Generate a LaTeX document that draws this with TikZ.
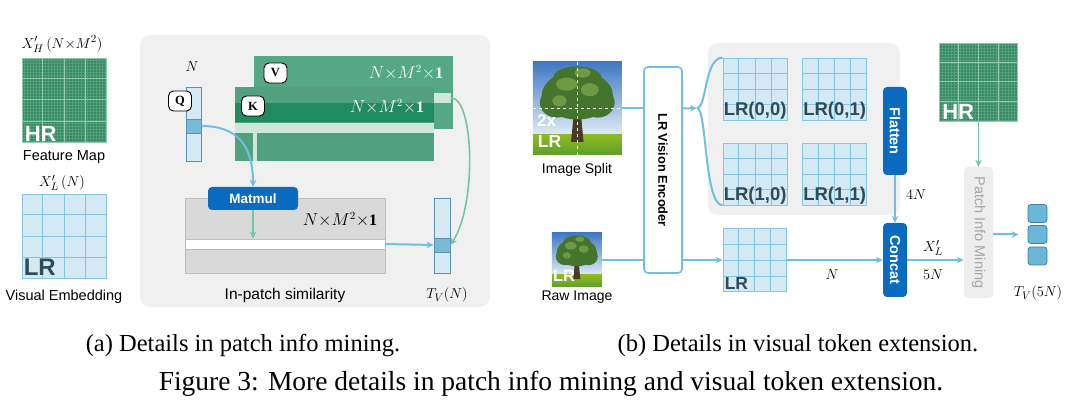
\documentclass[tikz,border=0pt]{standalone}
\usepackage{fontspec}
\setmainfont{Liberation Serif}
\setsansfont{Liberation Sans}
\usetikzlibrary{calc,arrows.meta}

% colours
\definecolor{hrgreen}{HTML}{358A63}
\definecolor{hrline}{HTML}{8FCBB0}
\definecolor{lrfill}{HTML}{D3E9F3}
\definecolor{lrline}{HTML}{86C6E4}
\definecolor{lrtext}{HTML}{2D4B59}
\definecolor{flowblue}{HTML}{6FBFE3}
\definecolor{boxblue}{HTML}{0B6CBF}
\definecolor{flowgreen}{HTML}{73C6A4}
\definecolor{panelgray}{HTML}{F0F0F0}
\definecolor{simgray}{HTML}{D9D9D9}
\definecolor{simedge}{HTML}{BDBDBD}
\definecolor{kvgreen}{HTML}{55A885}
\definecolor{kdark}{HTML}{1F8B5F}
\definecolor{klight}{HTML}{CDE8DA}
\definecolor{qfill}{HTML}{D5EAF4}
\definecolor{qedge}{HTML}{5B8FB5}
\definecolor{qcell}{HTML}{79BAD8}
\definecolor{tokfill}{HTML}{6CB6D8}
\definecolor{tokedge}{HTML}{3F7FA7}
\definecolor{pimfill}{HTML}{EDEDED}
\definecolor{pimtext}{HTML}{A6A6A6}
\definecolor{sky}{HTML}{3F78C2}
\definecolor{skylow}{HTML}{E2EEF7}
\definecolor{grass}{HTML}{5E9E2E}
\definecolor{leaf}{HTML}{45742C}
\definecolor{leafhi}{HTML}{6E9A45}
\definecolor{bark}{HTML}{4A3A28}

\begin{document}
\begin{tikzpicture}
	[>={Stealth[length=7pt,width=6.5pt]}, x=1pt, y=-1pt,
	every node/.style={inner sep=0pt},
	sanslabel/.style={font=\sffamily\fontsize{14.5}{17}\selectfont},
	mathlabel/.style={font=\fontsize{15}{18}\selectfont},
	captiontext/.style={font=\fontsize{24.5}{28}\selectfont},
	hrgrid/.style={fill=hrgreen, draw=hrline, line width=0.8pt},
	lrgrid/.style={fill=lrfill, draw=lrline, line width=0.8pt},
	gridtag/.style={anchor=south west, font=\sffamily\bfseries\fontsize{#1}{#1}\selectfont},
	bluebox/.style={fill=boxblue, rounded corners=4pt, text=white, font=\sffamily\bfseries\fontsize{14.5}{17}\selectfont},
	tagbox/.style={draw, fill=white, rounded corners=5pt, line width=0.9pt, minimum width=23, minimum height=20, font=\bfseries\fontsize{12.5}{12.5}\selectfont},
	flowline/.style={draw=flowblue, line width=2pt},
	flow/.style={flowline, ->},
	greenflow/.style={->, draw=flowgreen, line width=1.6pt}]

	\useasboundingbox (0,0) rectangle (1080,414);

	% 4x4 lines inside a grid node
	\newcommand{\GridLines}[2]{%
		\foreach \gi in {1,2,3} {
			\draw[#2] ($(#1.north west)!\gi/4!(#1.north east)$) -- ($(#1.south west)!\gi/4!(#1.south east)$);
			\draw[#2] ($(#1.north west)!\gi/4!(#1.south west)$) -- ($(#1.north east)!\gi/4!(#1.south east)$);
		}}

	% a tree photo in the box of a node
	\newcommand{\TreePhoto}[3]{%
		\begin{scope}[shift={(#1.north west)}, xscale=#2, yscale=#3]
			\clip (0,0) rectangle (1,1);
			\shade[top color=sky, bottom color=skylow] (0,0) rectangle (1,0.8);
			\shade[top color=grass!70!yellow, bottom color=grass] (0,0.78) rectangle (1,1);
			\fill[bark] (0.47,0.45) -- (0.53,0.45) -- (0.57,0.86) -- (0.43,0.86) -- cycle;
			\fill[leaf] (0.5,0.36) ellipse [x radius=0.40pt, y radius=0.26pt];
			\fill[leaf] (0.27,0.44) ellipse [x radius=0.19pt, y radius=0.16pt];
			\fill[leaf] (0.73,0.44) ellipse [x radius=0.19pt, y radius=0.16pt];
			\fill[leaf] (0.5,0.17) ellipse [x radius=0.27pt, y radius=0.12pt];
			\fill[leafhi] (0.38,0.24) ellipse [x radius=0.12pt, y radius=0.07pt];
			\fill[leafhi] (0.64,0.30) ellipse [x radius=0.10pt, y radius=0.07pt];
			\fill[leafhi] (0.30,0.42) ellipse [x radius=0.08pt, y radius=0.06pt];
			\fill[leafhi] (0.56,0.12) ellipse [x radius=0.09pt, y radius=0.05pt];
		\end{scope}}

	% (a) left: feature map and visual embedding
	\begin{scope}
		\node (xh) [mathlabel] at (62,44) {$X'_H\,(N{\times}M^2)$};
		\node (hrL) [hrgrid, minimum width=84, minimum height=84] at (64,100) {};
		\draw[hrline, line width=0.2pt, opacity=0.35, step=3pt] (hrL.south west) grid (hrL.north east);
		\GridLines{hrL}{hrline, line width=1pt}
		\node (hrLtag) [gridtag=22, text=white] at ([xshift=3pt, yshift=1pt]hrL.south west) {HR};
		\node (featcap) [sanslabel] at (64,157) {Feature Map};

		\node (xl) [mathlabel] at (62,183) {$X'_L\,(N)$};
		\node (lrL) [lrgrid, minimum width=84, minimum height=84] at (64,236) {};
		\GridLines{lrL}{lrline, line width=0.8pt}
		\node (lrLtag) [gridtag=24, text=lrtext] at ([xshift=2pt, yshift=3pt]lrL.south west) {LR};
		\node (embcap) [sanslabel] at (64,297) {Visual Embedding};
	\end{scope}

	% (a) patch info mining panel
	\begin{scope}
		\fill[panelgray, rounded corners=10pt] (140,35) rectangle (490,307);

		% value and key blocks
		\node (vblock) [fill=kvgreen, minimum width=199, minimum height=73] at (353.5,92.5) {};
		\node (vtab) [fill=klight, minimum width=17, minimum height=10] at (442.5,98) {};
		\node (kblock) [fill=kvgreen!95!black, minimum width=199, minimum height=74] at (334.5,124) {};
		\node (kband) [fill=kdark, minimum width=199, minimum height=19] at (334.5,112.5) {};
		\node (krow) [fill=klight, minimum width=199, minimum height=10] at (334.5,128) {};
		\fill[klight] (252.5,133) rectangle (257,161);
		\node (vtag) [tagbox] at (275.5,73) {V};
		\node (ktag) [tagbox] at (253,106) {K};
		\node (vsize) [mathlabel, text=white, font=\fontsize{16}{18}\selectfont] at (406,73) {$N{\times}M^2{\times}\mathbf{1}$};
		\node (ksize) [mathlabel, text=white, font=\fontsize{16}{18}\selectfont] at (387,107) {$N{\times}M^2{\times}\mathbf{1}$};

		% query column
		\node (qlen) [mathlabel] at (192,67) {$N$};
		\node (qcol) [fill=qfill, draw=qedge, line width=0.8pt, minimum width=15, minimum height=74] at (193.5,124) {};
		\node (qcell) [fill=qcell, draw=qedge, line width=0.8pt, minimum width=15, minimum height=14] at (193.5,126) {};
		\node (qtag) [tagbox] at (180,101) {Q};

		% similarity
		\node (sim) [fill=simgray, draw=simedge, line width=0.8pt, minimum width=200, minimum height=75] at (285,235.5) {};
		\node (simrow) [fill=white, draw=simedge, line width=0.6pt, minimum width=200, minimum height=10] at (285,244) {};
		\node (simsize) [mathlabel, font=\fontsize{16}{18}\selectfont] at (340,220) {$N{\times}M^2{\times}\mathbf{1}$};
		\node (matmul) [bluebox, minimum width=90, minimum height=23, font=\sffamily\bfseries\fontsize{13.5}{16}\selectfont] at (253,198.5) {Matmul};

		% output token column
		\node (tcol) [fill=qfill, draw=qedge, line width=0.8pt, minimum width=16, minimum height=75] at (442,235.5) {};
		\node (tcell) [fill=qcell, draw=qedge, line width=0.8pt, minimum width=16, minimum height=14] at (442,245) {};

		\node (simcap) [sanslabel, font=\sffamily\fontsize{15.5}{18}\selectfont] at (285,295) {In-patch similarity};
		\node (tvcap) [mathlabel] at (447,295) {$T_V(N)$};

		% connectors
		\draw[flow] (qcell.east) .. controls (237,126) and (253,145) .. (matmul.north);
		\draw[greenflow] (matmul.south) -- (matmul.south |- simrow.north);
		\draw[flow] (simrow.east) -- (tcell.west);
		\draw[greenflow] (vtab.east) .. controls (474,98) and (477,205) .. (tcell.east);
	\end{scope}

	% (b) visual token extension
	\begin{scope}
		% input photos
		\node (split) [minimum width=89, minimum height=93] at (577.5,108.5) {};
		\TreePhoto{split}{89}{93}
		\draw[white, dashed, line width=1pt] (split.north) -- (split.south);
		\draw[white, dashed, line width=1pt] (split.west) -- (split.east);
		\node (splittwo) [text=white, font=\sffamily\bfseries\fontsize{17}{17}\selectfont] at (546.5,121) {2x};
		\node (splitlr) [text=white, font=\sffamily\bfseries\fontsize{17.5}{17.5}\selectfont] at (549.5,141) {LR};
		\node (splitcap) [sanslabel, font=\sffamily\fontsize{14}{17}\selectfont] at (577,170) {Image Split};

		\node (raw) [minimum width=50, minimum height=54] at (577,260) {};
		\TreePhoto{raw}{50}{54}
		\node (rawlr) [text=white, font=\sffamily\bfseries\fontsize{16.5}{16.5}\selectfont] at (564,276) {LR};
		\node (rawcap) [sanslabel, font=\sffamily\fontsize{14}{17}\selectfont] at (577,297) {Raw Image};

		% encoder
		\node (enc) [draw=flowblue, fill=white, line width=1.6pt, rounded corners=4pt, minimum width=38, minimum height=206, font=\sffamily\bfseries\fontsize{12.8}{15}\selectfont] at (663,170) {\rotatebox{-90}{LR Vision Encoder}};
		\coordinate (brace) at (697,108);

		% split features
		\fill[panelgray, rounded corners=10pt] (708,43) rectangle (900,215);
		\foreach \nm/\cx/\cy/\lb in {lr00/755/89/{LR(0,0)}, lr01/834.5/89/{LR(0,1)}, lr10/755/174/{LR(1,0)}, lr11/834.5/174/{LR(1,1)}} {
			\node (\nm) [lrgrid, minimum width=64, minimum height=62] at (\cx,\cy) {};
			\GridLines{\nm}{lrline, line width=0.8pt}
			\node (\nm tag) [gridtag=18.5, text=lrtext] at ([xshift=1pt, yshift=1pt]\nm.south west) {\lb};
		}
		\node (lrlow) [lrgrid, minimum width=63, minimum height=63] at (754.5,260) {};
		\GridLines{lrlow}{lrline, line width=0.8pt}
		\node (lrlowtag) [gridtag=17.5, text=lrtext] at ([xshift=2pt, yshift=2pt]lrlow.south west) {LR};

		\node (flatten) [bluebox, minimum width=24, minimum height=88] at (895,131) {\rotatebox{-90}{Flatten}};
		\node (concat) [bluebox, minimum width=24, minimum height=74] at (895,260) {\rotatebox{-90}{Concat}};

		% patch info mining
		\node (hrR) [hrgrid, minimum width=78, minimum height=78] at (978.5,82) {};
		\draw[hrline, line width=0.2pt, opacity=0.35, step=3pt] (hrR.south west) grid (hrR.north east);
		\GridLines{hrR}{hrline, line width=1pt}
		\node (hrRtag) [gridtag=22, text=white] at ([xshift=3pt, yshift=2pt]hrR.south west) {HR};
		\node (pim) [fill=pimfill, rounded corners=4pt, minimum width=29, minimum height=131, text=pimtext, font=\sffamily\fontsize{14.5}{17}\selectfont] at (978.5,232.5) {\rotatebox{-90}{Patch Info Mining}};

		\foreach \nm/\cy in {tok1/213.5, tok2/234.5, tok3/256} {
			\node (\nm) [fill=tokfill, draw=tokedge, line width=0.8pt, rounded corners=3pt, minimum width=19, minimum height=18] at (1037.5,\cy) {};
		}
		\node (tvfive) [mathlabel] at (1038,293) {$T_V(5N)$};

		% labels on the flows
		\node (fourn) [mathlabel] at (916,195) {$4N$};
		\node (lown) [mathlabel] at (832,275) {$N$};
		\node (xlr) [mathlabel] at (933,248) {$X'_L$};
		\node (fiven) [mathlabel] at (933,275) {$5N$};

		% connectors
		\draw[flowline] (split.east) -- (enc.west |- split.east);
		\draw[flow] (enc.east |- split.east) -- (brace);
		\draw[flowline] (brace) .. controls (707,108) and (704,58) .. (lr00.north west);
		\draw[flowline] (brace) .. controls (707,108) and (704,205) .. (lr10.south west);
		\draw[flowline] (raw.east) -- (enc.west |- raw.east);
		\draw[flow] (enc.east |- raw.east) -- (lrlow.west);
		\draw[flow] (lrlow.east) -- (concat.west);
		\draw[flow] (flatten.south) -- (concat.north);
		\draw[flow] (concat.east) -- (pim.west |- concat.east);
		\draw[greenflow] (hrR.south) -- (pim.north);
		\draw[flow, shorten >=9pt] (pim.east |- tok2) -- (tok2.west);
	\end{scope}

	% captions
	\begin{scope}
		\node (capa) [captiontext] at (243,346) {(a) Details in patch info mining.};
		\node (capb) [captiontext] at (798,346) {(b) Details in visual token extension.};
		\node (capfig) [captiontext, font=\fontsize{27.5}{31}\selectfont] at (551,384) {Figure 3: More details in patch info mining and visual token extension.};
	\end{scope}

\end{tikzpicture}
\end{document}
